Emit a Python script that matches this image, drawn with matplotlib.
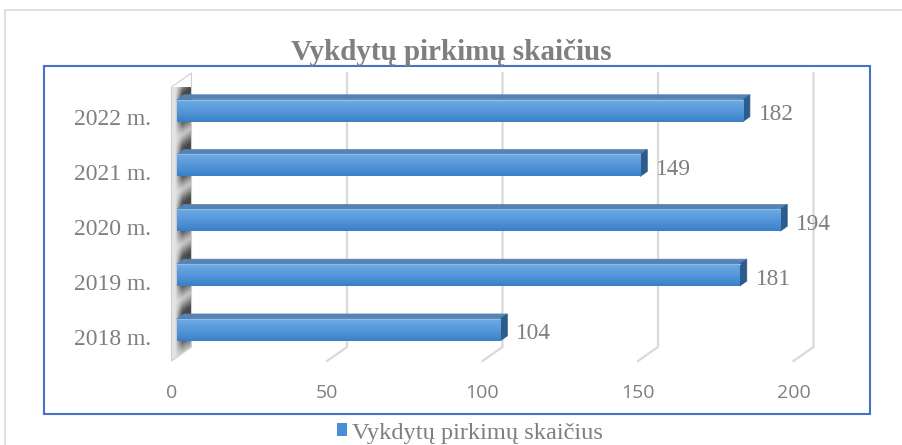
import numpy as np
import matplotlib.pyplot as plt
from matplotlib.patches import Polygon, Rectangle, Patch
from matplotlib.colors import LinearSegmentedColormap
from matplotlib.transforms import ScaledTranslation

### chart data
years = ['2018 m.', '2019 m.', '2020 m.', '2021 m.', '2022 m.']
counts = [104, 181, 194, 149, 182]
xticks = [0, 50, 100, 150, 200]
series_name = 'Vykdytų pirkimų skaičius'

W, H = 903, 445
grey = '#7f7f7f'
serif = 'Liberation Serif'

fig = plt.figure(figsize=(W / 100, H / 100), dpi=100)
### axes = the front plane of the 3d box (floor front edge at the bottom)
ax = fig.add_axes([171.5 / W, 1 - 361 / H, 622 / W, 274 / H])
ax.set_xlim(0, 200)
ax.set_ylim(-0.5, 4.5)
for s in ax.spines.values():
    s.set_visible(False)

### depth vector of the box in pixels, converted to data units
DX, DY = 20, 14
o = ax.transData.transform((0, 0))
sx = ax.transData.transform((1, 0))[0] - o[0]
sy = ax.transData.transform((0, 1))[1] - o[1]


def P(v, y, z):
    return (v + z * DX / sx, y + z * DY / sy)


def shift(dy_px):
    return ScaledTranslation(0, dy_px / 100, fig.dpi_scale_trans)


ymin, ymax = -0.5, 4.5
bh = 0.4
zf, zb = 0.27, 0.62

### side wall with shadows of the bars
wall = Polygon([P(0, ymin, 0), P(0, ymin, 1), P(0, ymax, 1), P(0, ymax, 0)],
               closed=True, fc='none', ec='#d0d0d0', lw=0.8, zorder=2, clip_on=False)
ax.add_patch(wall)
wx = np.linspace(0, DX / sx, 60)
wy = np.linspace(ymin, ymax + DY / sy, 600)
XX, YY = np.meshgrid(wx, wy)
Z = XX / (DX / sx)
Yf = YY - Z * DY / sy
dark = np.zeros_like(Yf)
for i in range(len(years)):
    dist = np.clip(np.abs(Yf - i) - bh / 2, 0, None)
    dark = np.maximum(dark, np.exp(-(dist / 0.22) ** 2))
dark = dark * np.clip((Z - 0.2) / 0.35, 0, 1)
shade = 0.9 - 0.05 * Z - 0.58 * dark
img = ax.imshow(shade, cmap='gray', vmin=0, vmax=1, origin='lower', aspect='auto',
                extent=(0, DX / sx, ymin, ymax + DY / sy), interpolation='bilinear',
                zorder=1)
img.set_clip_path(wall)
img.set_clip_box(None)

### gridlines on back wall and floor
for v in xticks[1:]:
    pts = [P(v, ymax, 1), P(v, ymin, 1), P(v, ymin, 0)]
    ax.plot([p[0] for p in pts], [p[1] for p in pts], color='#d9d9d9', lw=1.6,
            zorder=1, clip_on=False, solid_joinstyle='miter')

### bars
front_cmap = LinearSegmentedColormap.from_list('front', ['#3a80c6', '#5597da', '#6eaae3'])
grad = np.linspace(0, 1, 50).reshape(-1, 1)
for i, v in enumerate(counts):
    y0, y1 = i - bh / 2, i + bh / 2
    top = Polygon([P(0, y1, zf), P(v, y1, zf), P(v, y1, zb), P(0, y1, zb)],
                  closed=True, fc='#5583b4', ec='#5583b4', lw=0.5, zorder=3)
    side = Polygon([P(v, y0, zf), P(v, y1, zf), P(v, y1, zb), P(v, y0, zb)],
                   closed=True, fc='#2d5c8c', ec='#2d5c8c', lw=0.5, zorder=3)
    ax.add_patch(top)
    ax.add_patch(side)
    x0f, yb = P(0, y0, zf)
    x1f, yt = P(v, y1, zf)
    ax.imshow(grad, cmap=front_cmap, origin='lower', aspect='auto',
              extent=(x0f, x1f, yb, yt), zorder=4, interpolation='bilinear')
    ax.plot([x0f, x1f], [yt, yt], color='#8cbdea', lw=0.8, zorder=5)
    ax.annotate(str(v), xy=P(v, i, zf), xytext=(11.5, -3), textcoords='offset points',
                va='center', ha='left', fontsize=16.8, family=serif, color=grey)

ax.set_xlim(0, 200)
ax.set_ylim(ymin, ymax)

ax.set_yticks(range(len(years)), years, fontsize=17, family=serif, color=grey)
ax.set_xticks(xticks, [str(t) for t in xticks], fontsize=14, family='Open Sans', color=grey)
ax.tick_params(axis='y', length=0, pad=15)
ax.tick_params(axis='x', length=0, pad=16.5)
for lab in ax.get_yticklabels():
    lab.set_transform(lab.get_transform() + shift(-3))

### title, frames, legend
fig.text(451 / W, 1 - 60 / H, series_name, ha='center', va='baseline', fontsize=21,
         weight='bold', family=serif, color=grey)
fig.add_artist(Rectangle((44 / W, 1 - 414 / H), 826 / W, 348 / H, transform=fig.transFigure,
                         fill=False, ec='#4472c4', lw=1.5))
fig.add_artist(Rectangle((5 / W, -0.1), 1, 1.1 - 10 / H, transform=fig.transFigure,
                         fill=False, ec='#d9d9d9', lw=1.2))
leg = fig.legend(handles=[Patch(fc='#4a8fd6', ec='none')], labels=[series_name],
                 loc='center', bbox_to_anchor=(470 / W, 1 - 433 / H), frameon=False,
                 handlelength=0.42, handleheight=0.42, handletextpad=0.2,
                 prop={'family': serif, 'size': 17.6})
for t in leg.get_texts():
    t.set_color(grey)

fig.savefig('out.png', dpi=100)
